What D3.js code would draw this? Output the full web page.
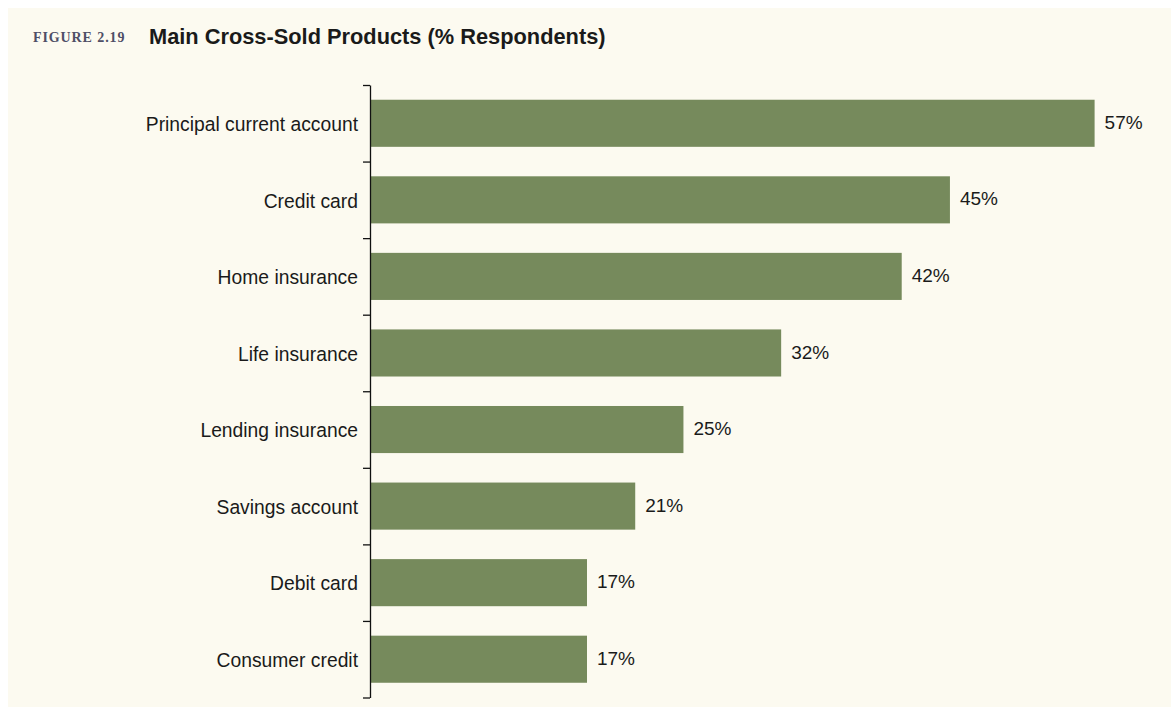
<!DOCTYPE html>
<html>
<head>
<meta charset="utf-8">
<script src="https://cdn.jsdelivr.net/npm/d3@7"></script>
<style>
  html, body { margin: 0; padding: 0; background: #ffffff; }
  svg { display: block; }
</style>
</head>
<body>
<svg id="chart" width="1171" height="707"></svg>
<script>
const categories = [
  "Principal current account",
  "Credit card",
  "Home insurance",
  "Life insurance",
  "Lending insurance",
  "Savings account",
  "Debit card",
  "Consumer credit"
];
// bar lengths
const values = [57.1, 45.7, 41.9, 32.4, 24.7, 20.9, 17.1, 17.1];
const valueLabels = ["57%", "45%", "42%", "32%", "25%", "21%", "17%", "17%"];
const figureLabel = "FIGURE 2.19";
const titleText = "Main Cross-Sold Products (% Respondents)";

(function () {
const W = 1171, H = 707;
const svg = d3.select("#chart");

svg.append("rect").attr("x", 8).attr("y", 8).attr("width", W - 8).attr("height", H - 8)
  .attr("fill", "#fcfaf0");

svg.append("text").attr("x", 33).attr("y", 41.5)
  .attr("font-family", "'Liberation Serif', 'DejaVu Serif', serif")
  .attr("font-size", 14).attr("font-weight", "bold").attr("letter-spacing", 0.9)
  .attr("fill", "#4e4e66")
  .text(figureLabel);

svg.append("text").attr("x", 149).attr("y", 44)
  .attr("font-family", "'Liberation Sans', Arial, sans-serif")
  .attr("font-weight", "bold").attr("font-size", 21.8).attr("fill", "#1a1a1a")
  .text(titleText);

const axisX = 370;
const plotTop = 85, plotBottom = 697.5;

const x = d3.scaleLinear().domain([0, 60]).range([axisX, axisX + 60 * 12.69]);
const y = d3.scaleBand().domain(categories).range([plotTop, plotBottom])
  .paddingInner(0.385).paddingOuter(0.1925);

const g = svg.append("g");

g.selectAll("rect.bar").data(categories).join("rect")
  .attr("class", "bar")
  .attr("x", x(0) + 0.5)
  .attr("y", d => y(d))
  .attr("width", (d, i) => x(values[i]) - x(0) - 0.5)
  .attr("height", y.bandwidth())
  .attr("fill", "#768a5c");

g.selectAll("text.val").data(categories).join("text")
  .attr("class", "val")
  .attr("x", (d, i) => x(values[i]) + 10)
  .attr("y", d => y(d) + y.bandwidth() / 2 - 1)
  .attr("dy", "0.35em")
  .attr("font-family", "'Liberation Sans', Arial, sans-serif")
  .attr("font-size", 19).attr("fill", "#1a1a1a")
  .text((d, i) => valueLabels[i]);

const boundary = d3.scaleLinear().domain([0, categories.length]).range([plotTop, plotBottom]);
const axis = d3.axisLeft(boundary).tickValues(d3.range(0, categories.length + 1))
  .tickSize(7).tickSizeOuter(0).tickFormat("");
const ag = svg.append("g").attr("transform", `translate(${axisX},0)`).call(axis);
ag.selectAll("path, line").attr("stroke", "#111").attr("stroke-width", 1.3);

svg.selectAll("text.cat").data(categories).join("text")
  .attr("class", "cat")
  .attr("x", axisX - 12)
  .attr("y", d => y(d) + y.bandwidth() / 2 + 1)
  .attr("dy", "0.35em")
  .attr("text-anchor", "end")
  .attr("font-family", "'Liberation Sans', Arial, sans-serif")
  .attr("font-size", 19.3).attr("fill", "#1a1a1a")
  .text(d => d);
})();
</script>
</body>
</html>
